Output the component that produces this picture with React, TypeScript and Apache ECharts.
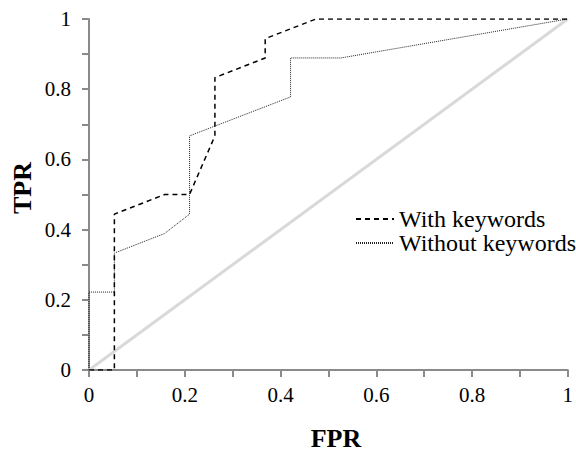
import React, { useEffect, useRef } from "react";
import * as echarts from "echarts";

const fprWith = [0, 0.053, 0.053, 0.158, 0.21, 0.263, 0.263, 0.368, 0.368, 0.474, 1];
const tprWith = [0, 0, 0.444, 0.5, 0.5, 0.667, 0.833, 0.889, 0.944, 1, 1];
const fprWithout = [0, 0, 0.053, 0.053, 0.158, 0.21, 0.21, 0.421, 0.421, 0.526, 1];
const tprWithout = [0, 0.222, 0.222, 0.333, 0.389, 0.444, 0.667, 0.778, 0.889, 0.889, 1];
const diagX = [0, 1];
const diagY = [0, 1];
const seriesNames = ["With keywords", "Without keywords"];
const xTitle = "FPR";
const yTitle = "TPR";

const FONT = "Times New Roman";
const AXIS_COLOR = "#8a8a8a";

const zip = (xs: number[], ys: number[]) => xs.map((x, i) => [x, ys[i]]);

export default function App() {
  const ref = useRef<HTMLDivElement>(null);
  useEffect(() => {
    if (!ref.current) return;
    const chart = echarts.init(ref.current, undefined, { renderer: "svg" });
    const label = { color: "#000", fontSize: 21, fontFamily: FONT, fontWeight: "normal" as const };
    const axisCommon = {
      type: "value" as const,
      min: 0,
      max: 1,
      interval: 0.2,
      splitLine: { show: false },
      axisLine: { show: true, lineStyle: { color: AXIS_COLOR, width: 2 } },
      axisTick: { show: true, inside: false, length: 7, lineStyle: { color: AXIS_COLOR, width: 2 } },
      minorTick: { show: true, splitNumber: 2, length: 7, lineStyle: { color: AXIS_COLOR, width: 2 } },
    };
    chart.setOption({
      animation: false,
      backgroundColor: "#fff",
      textStyle: { fontFamily: FONT },
      grid: { left: 89, right: 8, top: 19, bottom: 84, containLabel: false },
      xAxis: { ...axisCommon, axisLabel: { ...label, margin: 14 } },
      yAxis: { ...axisCommon, axisLabel: { ...label, margin: 18 } },
      legend: {
        data: seriesNames,
        orient: "vertical",
        left: 355,
        top: 207,
        itemWidth: 38,
        itemHeight: 14,
        itemGap: 0,
        padding: 0,
        itemStyle: { opacity: 0 },
        textStyle: { fontSize: 24, lineHeight: 23, fontFamily: FONT, color: "#000" },
      },
      graphic: [
        {
          type: "text",
          x: 336,
          y: 438,
          style: { text: xTitle, fontFamily: FONT, fontWeight: "bold", fontSize: 26, fill: "#000", align: "center", verticalAlign: "middle" },
        },
        {
          type: "text",
          x: 22,
          y: 188,
          rotation: Math.PI / 2,
          style: { text: yTitle, fontFamily: FONT, fontWeight: "bold", fontSize: 26, fill: "#000", align: "center", verticalAlign: "middle" },
        },
      ],
      series: [
        {
          name: "diag",
          type: "line",
          data: zip(diagX, diagY),
          symbol: "none",
          silent: true,
          lineStyle: { color: "#d9d9d9", width: 3 },
          z: 1,
        },
        {
          name: seriesNames[0],
          type: "line",
          data: zip(fprWith, tprWith),
          symbol: "none",
          lineStyle: { color: "#000", width: 1.5, type: [5, 4] },
          itemStyle: { color: "#000" },
          z: 3,
        },
        {
          name: seriesNames[1],
          type: "line",
          data: zip(fprWithout, tprWithout),
          symbol: "none",
          lineStyle: { color: "#222", width: 1, type: [1, 1] },
          itemStyle: { color: "#222" },
          z: 2,
        },
      ],
    });
    return () => chart.dispose();
  }, []);
  return <div ref={ref} style={{ width: 576, height: 454, position: "absolute", left: 0, top: 0 }} />;
}
